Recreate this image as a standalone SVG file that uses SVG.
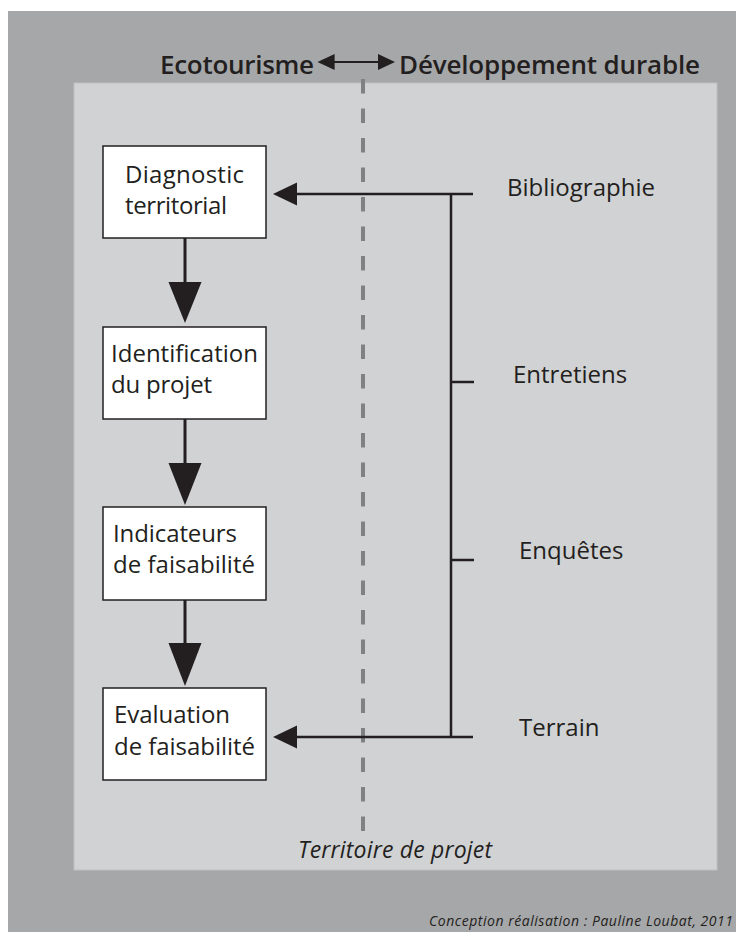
<svg xmlns="http://www.w3.org/2000/svg" width="736" height="932" viewBox="0 0 736 932">
<style>
text{font-family:"Open Sans","Liberation Sans",sans-serif;fill:#231f20}
.hd{font-size:26px;font-weight:600}
.bx{font-size:24px}
.lb{font-size:24px}
.it{font-style:italic}
.box{fill:#fff;stroke:#231f20;stroke-width:1.5}
.ln{stroke:#231f20;fill:none}
.hd-arrow{fill:#231f20}
</style>
<rect x="8" y="11" width="728" height="921" fill="#a6a7a9"/>
<rect x="74" y="83" width="643" height="787" fill="#d1d2d4" stroke="#bfc0c2" stroke-width="1"/>
<line x1="363" y1="79" x2="363" y2="833" stroke="#808183" stroke-width="4" stroke-dasharray="14.5 15"/>
<g id="header">
<text class="hd" x="160" y="74" textLength="154">Ecotourisme</text>
<text class="hd" x="399" y="74" textLength="301">Développement durable</text>
<line x1="330" y1="62" x2="382" y2="62" stroke="#231f20" stroke-width="2"/>
<polygon class="hd-arrow" points="317.5,62 334.6,54 334.6,70"/>
<polygon class="hd-arrow" points="395,62 378,54 378,70"/>
</g>
<g id="n1"><rect class="box" x="103" y="146" width="163" height="92"/>
<text class="bx" x="125" y="183" textLength="119">Diagnostic</text>
<text class="bx" x="125" y="214" textLength="102">territorial</text></g>
<g id="n2"><rect class="box" x="103" y="327" width="163" height="92"/>
<text class="bx" x="111" y="362" textLength="147">Identification</text>
<text class="bx" x="111" y="393" textLength="101">du projet</text></g>
<g id="n3"><rect class="box" x="103" y="507" width="163" height="93"/>
<text class="bx" x="113" y="542" textLength="124">Indicateurs</text>
<text class="bx" x="113" y="573" textLength="142">de faisabilité</text></g>
<g id="n4"><rect class="box" x="103" y="688" width="163" height="92"/>
<text class="bx" x="114" y="723" textLength="116">Evaluation</text>
<text class="bx" x="114" y="755" textLength="141">de faisabilité</text></g>
<g id="sources">
<text class="lb" x="507" y="196">Bibliographie</text>
<text class="lb" x="513" y="383">Entretiens</text>
<text class="lb" x="519" y="559">Enquêtes</text>
<text class="lb" x="519" y="736">Terrain</text>
</g>
<g id="connectors">
<line class="ln" x1="185" y1="238" x2="185" y2="284" stroke-width="3"/>
<polygon fill="#231f20" points="168.5,282 201.5,282 185,323"/>
<line class="ln" x1="185" y1="419" x2="185" y2="465" stroke-width="3"/>
<polygon fill="#231f20" points="168.5,463 201.5,463 185,505"/>
<line class="ln" x1="185" y1="600" x2="185" y2="645" stroke-width="3"/>
<polygon fill="#231f20" points="168.5,643 201.5,643 185,686"/>
<line class="ln" x1="473" y1="194" x2="295" y2="194" stroke-width="2.5"/>
<polygon fill="#231f20" points="273,194 297,182.5 297,205.5"/>
<line class="ln" x1="473" y1="737" x2="295" y2="737" stroke-width="2.5"/>
<polygon fill="#231f20" points="273,737 297,725.5 297,748.5"/>
<line class="ln" x1="451" y1="194" x2="451" y2="737" stroke-width="2.5"/>
<line class="ln" x1="451" y1="382" x2="474" y2="382" stroke-width="2.5"/>
<line class="ln" x1="451" y1="560" x2="474" y2="560" stroke-width="2.5"/>
</g>
<text class="it" x="298" y="858" font-size="23" textLength="194">Territoire de projet</text>
<text class="it" x="429" y="926" font-size="14" textLength="304">Conception réalisation : Pauline Loubat, 2011</text>
</svg>
